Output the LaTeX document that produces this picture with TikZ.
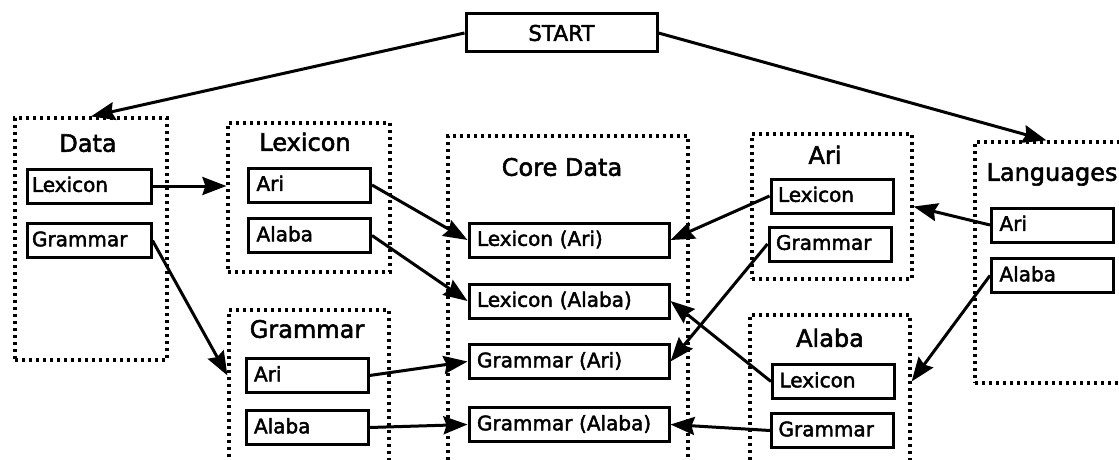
\documentclass[tikz,border=0pt]{standalone}
\usepackage{fontspec}
\setmainfont{DejaVu Sans}[RawFeature={embolden=2.2}]
\usepackage{tikz}
\usetikzlibrary{arrows.meta, positioning}
\newcommand{\boxfont}{\fontsize{20}{24}\selectfont}
\newcommand{\headfont}{\fontsize{24}{28}\selectfont}
\tikzset{
  group/.style={
    rectangle, draw, line width=3.2pt,
    dash pattern=on 3pt off 4pt,
    inner sep=0pt
  },
  item/.style={
    rectangle, draw, line width=3pt, font=\boxfont,
    minimum height=34pt, inner ysep=0pt, inner xsep=8pt,
    text height=14.6pt, text depth=3pt, align=left, text width=#1
  },
  item/.default=106pt,
  head/.style={font=\headfont, text height=17.5pt, text depth=0pt, inner sep=0pt},
  arrow/.style={-{Stealth[length=24pt, width=18pt, inset=3pt]}, line width=3pt},
}

\begin{document}
\begin{tikzpicture}[x=1pt, y=-1pt]
\useasboundingbox (0,0) rectangle (1119,460);

% Start
\node[rectangle, draw, line width=3pt, minimum width=191pt, minimum height=38pt,
      font=\fontsize{21.5}{25}\selectfont] (start) at (561.5,33) {START};

% Data
\node[group, minimum width=152pt, minimum height=242pt] (databox) at (91,239) {};
\node[head] (datahead) at (88,143) {Data};
\node[item=114pt, inner xsep=5pt] (dlex) at (89,186) {Lexicon};
\node[item=114pt, inner xsep=5pt] (dgram) at (89,240.5) {Grammar};

% Lexicon and Grammar groups
\node[group, minimum width=162pt, minimum height=149pt] (lexbox) at (309,197.5) {};
\node[head] (lexhead) at (305,142) {Lexicon};
\node[item] (lari) at (309.5,185) {Ari};
\node[item] (lalaba) at (309.5,235.5) {Alaba};

\node[group, minimum width=160pt, minimum height=180pt] (grambox) at (309,400) {};
\node[head] (gramhead) at (307,329) {Grammar};
\node[item] (gari) at (307,375.5) {Ari};
\node[item] (galaba) at (307,427.5) {Alaba};

% Core data
\node[group, minimum width=240pt, minimum height=354pt] (corebox) at (568,313) {};
\node[head] (corehead) at (562,167) {Core Data};
\node[item=184pt] (clari) at (569,240) {Lexicon (Ari)};
\node[item=184pt] (clalaba) at (569,301) {Lexicon (Alaba)};
\node[item=184pt] (cgari) at (569,361.5) {Grammar (Ari)};
\node[item=184pt] (cgalaba) at (569,424.5) {Grammar (Alaba)};

% Ari and Alaba groups
\node[group, minimum width=160pt, minimum height=145pt] (aribox) at (832,206.5) {};
\node[head] (arihead) at (825,155) {Ari};
\node[item, inner xsep=7pt, text width=108pt] (arilex) at (832,196) {Lexicon};
\node[item, inner xsep=7pt, text width=108pt] (arigram) at (830,244) {Grammar};

\node[group, minimum width=160pt, minimum height=175pt] (alababox) at (830,402.5) {};
\node[head] (alabahead) at (830,338) {Alaba};
\node[item, inner xsep=7pt, text width=108pt] (alabalex) at (833.5,381.5) {Lexicon};
\node[item, inner xsep=7pt, text width=108pt] (alabagram) at (832.5,430.5) {Grammar};

% Languages
\node[group, minimum width=155pt, minimum height=241pt] (langbox) at (1052.5,262.5) {};
\node[head] (langhead) at (1052,172) {Languages};
\node[item] (langari) at (1052.5,225) {Ari};
\node[item] (langalaba) at (1052.5,275.5) {Alaba};

% Arrows
\draw[arrow] (start.west) -- (databox.north);
\draw[arrow] (start.east) -- ([xshift=-6pt]langbox.north);
\draw[arrow] (dlex.east) -- (dlex.east -| lexbox.west);
\draw[arrow] (dgram.east) -- (gari -| grambox.west);
\draw[arrow] (lari.east) -- (clari.west);
\draw[arrow] (lalaba.east) -- (clalaba.west);
\draw[arrow] (gari.east) -- (cgari.west);
\draw[arrow] (galaba.east) -- (cgalaba.west);
\draw[arrow] (arilex.west) -- (clari.east);
\draw[arrow] (arigram.west) -- (cgari.east);
\draw[arrow] (alabalex.west) -- (clalaba.east);
\draw[arrow] (alabagram.west) -- (cgalaba.east);
\draw[arrow] (langari.west) -- (aribox.east);
\draw[arrow] (langalaba.west) -- (alabalex -| alababox.east);

\end{tikzpicture}
\end{document}
